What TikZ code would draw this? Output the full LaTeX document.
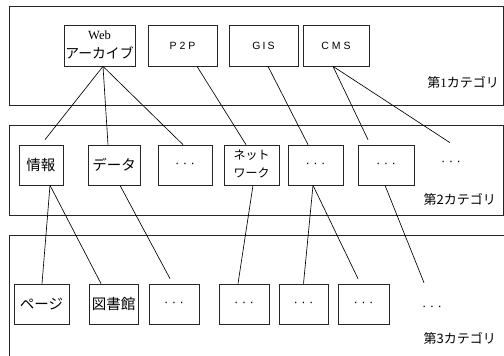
\documentclass[tikz,border=0pt]{standalone}
\usepackage{fontspec}
\setmainfont{Liberation Serif}
\setsansfont{Liberation Sans}
\newfontfamily\jp{Noto Sans CJK JP}
\newcommand\tdots{{\sffamily\fontsize{13}{13}\selectfont ·\hspace{3.5pt}·\hspace{3.5pt}·}}
\newcommand\spaced[1]{{\sffamily\fontsize{10.5}{12}\selectfont #1}}
\begin{document}
\begin{tikzpicture}[x=1pt,y=-1pt,
  panel/.style={draw=black!85, line width=0.8pt},
  box/.style={draw=black!85, line width=0.7pt, inner sep=0pt, minimum height=40pt, align=center, font=\jp\fontsize{14.5}{15}\selectfont},
  free/.style={inner sep=0pt},
  cat/.style={anchor=east, inner sep=0pt, font=\jp\fontsize{13}{15}\selectfont},
  link/.style={line width=0.65pt}]
\useasboundingbox (0,0) rectangle (504,356);
\begin{scope}
\clip (0,0) rectangle (504,356);
\draw[panel] (9,6) rectangle (503,105);
\draw[panel] (9,125) rectangle (503,215);
\draw[panel] (9,235) rectangle (520,370);
\end{scope}
% category labels
\node[cat] (c1) at (499,82) {第{\rmfamily 1}カテゴリ};
\node[cat] (c2) at (496,199) {第2カテゴリ};
\node[cat] (c3) at (496,338) {第3カテゴリ};
% top row
\node[box, minimum width=71pt, minimum height=41pt] (web) at (99.5,45.5) {};
\node[inner sep=0pt, font=\rmfamily\fontsize{12.5}{12}\selectfont] (webt) at (99.5,35) {Web};
\node[inner sep=0pt, font=\jp\fontsize{13.8}{14}\selectfont] (webj) at (99.5,53) {アーカイブ};
\node[box, minimum width=69pt, minimum height=41pt] (p2p) at (182.5,45.5) {\spaced{P\hspace{3pt}2\hspace{3pt}P}};
\node[box, minimum width=69pt, minimum height=41pt] (gis) at (263.5,45.5) {\spaced{G\hspace{2pt}I\hspace{2pt}S}};
\node[box, minimum width=66pt, minimum height=41pt] (cms) at (336,45.5) {\spaced{C\hspace{3pt}M\hspace{3pt}S}};
% second row
\node[box, minimum width=44pt] (info) at (41,165) {情報};
\node[box, minimum width=52pt] (data) at (114,165) {データ};
\node[box, minimum width=54pt] (d1) at (185,165) {\tdots};
\node[box, minimum width=55pt] (net) at (251.5,165) {};
\node[inner sep=0pt, font=\jp\fontsize{12}{12}\selectfont] (net1) at (251.5,155) {ネット};
\node[inner sep=0pt, font=\jp\fontsize{12}{12}\selectfont] (net2) at (251.5,173) {ワーク};
\node[box, minimum width=55pt] (d2) at (315.5,165) {\tdots};
\node[box, minimum width=56pt] (d3) at (386,165) {\tdots};
\node[free] (f2) at (451,163) {\tdots};
% third row
\node[box, minimum width=55pt] (page) at (41.5,304) {ページ};
\node[box, minimum width=49pt] (lib) at (113.5,304) {図書館};
\node[box, minimum width=50pt] (e1) at (174,304) {\tdots};
\node[box, minimum width=50pt] (e2) at (244,304) {\tdots};
\node[box, minimum width=49pt] (e3) at (303.5,304) {\tdots};
\node[box, minimum width=51pt] (e4) at (363.5,304) {\tdots};
\node[free] (f3) at (432,308) {\tdots};
% links top -> second
\draw[link] ([xshift=3.5pt]web.south) -- ([xshift=4pt,yshift=5pt]info.north);
\draw[link] ([xshift=3.5pt]web.south) -- ([xshift=-6pt]data.north);
\draw[link] ([xshift=3.5pt]web.south) -- ([xshift=-2pt]d1.north);
\draw[link] ([xshift=14.5pt]p2p.south) -- ([xshift=-5.5pt]net.north);
\draw[link] ([xshift=4.5pt]gis.south) -- ([xshift=-7.5pt]d2.north);
\draw[link] ([xshift=-3pt]cms.south) -- ([xshift=-18pt,yshift=5pt]d3.north);
\draw[link] ([xshift=-3pt]cms.south) -- ([xshift=-1pt,yshift=18pt]f2.north);
% links second -> third
\draw[link] ([xshift=9pt]info.south) -- ([xshift=0.5pt]page.north);
\draw[link] ([xshift=9pt]info.south) -- ([xshift=-12.5pt]lib.north);
\draw[link] ([xshift=6pt]data.south) -- ([xshift=-4pt,yshift=5pt]e1.north);
\draw[link] ([xshift=1.5pt]net.south) -- ([xshift=-6pt]e2.north);
\draw[link] ([xshift=-2.5pt]d2.south) -- (e3.north);
\draw[link] ([xshift=-2.5pt]d2.south) -- ([xshift=-5.5pt,yshift=5pt]e4.north);
\draw[link] ([xshift=-1pt]d3.south) -- ([xshift=-8pt,yshift=23pt]f3.north);
\end{tikzpicture}
\end{document}
